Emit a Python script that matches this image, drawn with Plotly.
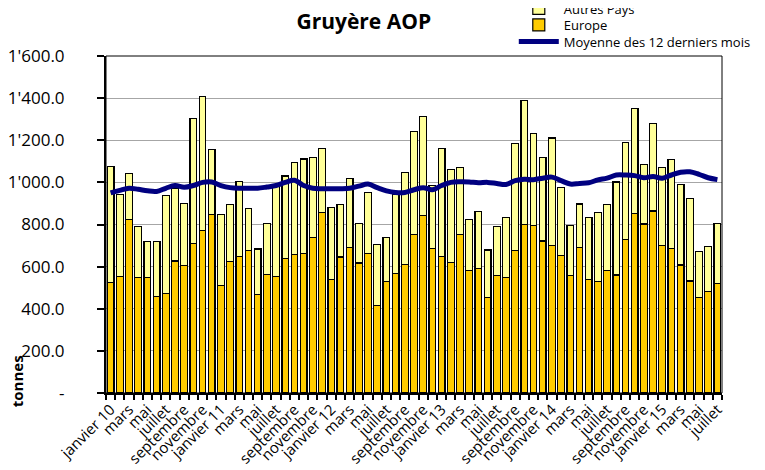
import plotly.graph_objects as go

month_names = ["janvier", "février", "mars", "avril", "mai", "juin", "juillet",
               "août", "septembre", "octobre", "novembre", "décembre"]
years = ["10", "11", "12", "13", "14", "15"]

# categories: janvier 10 ... juillet 15
months = []
for y in years:
    for m in month_names:
        months.append(f"{m} {y}")
months = months[:67]

tick_labels = []
for k, c in enumerate(months):
    name, yy = c.split(" ")
    if k % 2 == 1:
        tick_labels.append("")
    elif name == "janvier":
        tick_labels.append(c)
    else:
        tick_labels.append(name)

europe = [525, 552, 825, 548, 548, 457, 471, 627, 605, 710, 773, 848,
          510, 624, 648, 675, 467, 563, 552, 640, 659, 662, 738, 857,
          540, 646, 690, 617, 663, 414, 529, 567, 610, 752, 844, 686,
          648, 619, 751, 581, 592, 452, 557, 549, 675, 800, 795, 722,
          700, 652, 557, 690, 537, 529, 581, 560, 727, 851, 802, 864,
          702, 686, 608, 532, 452, 483, 519]

autres_pays = [551, 389, 216, 242, 173, 262, 466, 343, 293, 592, 633, 308,
               338, 270, 358, 200, 217, 240, 429, 390, 436, 449, 379, 303,
               341, 248, 329, 188, 289, 291, 209, 377, 436, 488, 467, 301,
               512, 443, 319, 243, 270, 227, 232, 283, 508, 590, 438, 397,
               511, 323, 237, 207, 298, 328, 314, 442, 462, 498, 284, 415,
               369, 422, 382, 393, 218, 211, 286]

moyenne_12 = [950, 962, 972, 967, 960, 957, 972, 985, 977, 985, 1000, 1002,
              985, 975, 972, 972, 972, 978, 985, 1000, 1010, 985, 972, 970,
              970, 970, 972, 982, 992, 975, 960, 952, 952, 965, 975, 965,
              985, 1000, 1003, 1002, 998, 1000, 995, 990, 1008, 1015, 1013, 1020,
              1025, 1008, 992, 995, 998, 1012, 1020, 1035, 1035, 1032, 1022, 1028,
              1020, 1035, 1048, 1050, 1038, 1022, 1013]

y_tickvals = [0, 200, 400, 600, 800, 1000, 1200, 1400, 1600]


def fmt(v):
    if v == 0:
        return "-"
    s = f"{v:,.1f}"
    return s.replace(",", "'")


y_ticktext = [fmt(v) for v in y_tickvals]

FONT = "Open Sans"

fig = go.Figure()
fig.add_trace(go.Bar(
    x=months, y=europe, name="Europe", showlegend=True,
    marker=dict(color="#FFCC00", line=dict(color="#000000", width=1.2)),
    legend="legend2",
))
fig.add_trace(go.Bar(
    x=months, y=autres_pays, name="Autres Pays", showlegend=True,
    marker=dict(color="#FFFF99", line=dict(color="#000000", width=1.2)),
    legend="legend",
))
fig.add_trace(go.Scatter(
    x=months, y=moyenne_12, name="Moyenne des 12 derniers mois", showlegend=True,
    mode="lines", line=dict(color="#000080", width=5, shape="spline"),
    legend="legend3",
))

legend_common = dict(
    xref="paper", yref="paper", x=0.662, xanchor="left", yanchor="middle",
    bgcolor="rgba(0,0,0,0)", font=dict(family=FONT, size=13, color="#000000"),
    itemwidth=40, borderwidth=0,
)

# the page body adds an 8px offset; the figure is sized to fill the rest
fig.update_layout(
    width=757, height=462, showlegend=True,
    paper_bgcolor="white", plot_bgcolor="white",
    margin=dict(l=98, r=43, t=48, b=77, autoexpand=False),
    barmode="stack", bargap=0.27,
    title=dict(text="<b>Gruyère AOP</b>", x=0.470, xanchor="center",
               y=0.9697, yanchor="middle",
               font=dict(family=FONT, size=21, color="#000000")),
    legend=dict(legend_common, y=1.141),
    legend2=dict(legend_common, y=1.092),
    legend3=dict(legend_common, y=1.043),
    xaxis=dict(
        type="category", tickmode="array", tickvals=months, ticktext=tick_labels,
        tickson="boundaries", ticks="outside", ticklen=5, tickwidth=1.5,
        tickcolor="#000000", tickangle=-45,
        tickfont=dict(family=FONT, size=15, color="#000000"),
        showline=True, linecolor="#000000", linewidth=2, showgrid=False,
        range=[-0.5, 66.5],
    ),
    yaxis=dict(
        range=[0, 1600], tickmode="array", tickvals=y_tickvals, ticktext=y_ticktext,
        ticks="outside", ticklen=7, tickwidth=1.5, tickcolor="#000000",
        ticklabelstandoff=29,
        tickfont=dict(family=FONT, size=17, color="#000000"),
        showline=True, linecolor="#000000", linewidth=2,
        showgrid=True, gridcolor="#A6A6A6", gridwidth=1, zeroline=False,
    ),
    shapes=[dict(type="rect", xref="paper", yref="paper", x0=0, x1=1, y0=0, y1=1,
                 line=dict(color="#000000", width=1), layer="above")],
    annotations=[dict(text="<b>tonnes</b>", xref="paper", yref="paper",
                      x=-0.1445, y=0.035, textangle=-90, showarrow=False,
                      xanchor="center", yanchor="middle",
                      font=dict(family=FONT, size=15, color="#000000"))],
)

fig.write_html("out.html")
